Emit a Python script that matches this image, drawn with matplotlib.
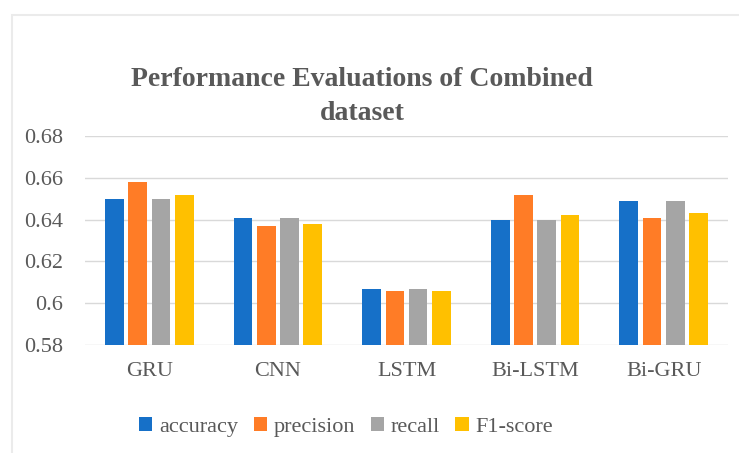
import numpy as np
import matplotlib.pyplot as plt
from matplotlib.patches import Rectangle

# data
models = ['GRU', 'CNN', 'LSTM', 'Bi-LSTM', 'Bi-GRU']
accuracy = [0.650, 0.641, 0.607, 0.640, 0.649]
precision = [0.658, 0.637, 0.606, 0.652, 0.641]
recall = [0.650, 0.641, 0.607, 0.640, 0.649]
f1_score = [0.652, 0.638, 0.606, 0.642, 0.643]
yticks = [0.58, 0.6, 0.62, 0.64, 0.66, 0.68]
ytick_labels = ['0.58', '0.6', '0.62', '0.64', '0.66', '0.68']

series = [('accuracy', accuracy, '#1670C8'),
          ('precision', precision, '#FF7C26'),
          ('recall', recall, '#A5A5A5'),
          ('F1-score', f1_score, '#FFC000')]

plt.rcParams['font.family'] = ['Liberation Serif', 'DejaVu Serif']
text_col = '#595959'

fig = plt.figure(figsize=(7.39, 4.53), dpi=100)
ax = fig.add_axes([85/739, 1 - 345/453, (728 - 85)/739, (345 - 136)/453])

# faint chart border
fig.add_artist(Rectangle((12/739, -0.1), 1.2, 1 - 15/453 + 0.1,
                         transform=fig.transFigure, fill=False,
                         edgecolor='#EBEBEB', linewidth=1.5))

x = np.arange(len(models))
step = 0.181
width = 0.145
for i, (name, vals, col) in enumerate(series):
    ax.bar(x + (i - 1.5)*step, np.array(vals) - 0.58, width, bottom=0.58,
           color=col, label=name, zorder=3)

ax.set_xlim(-0.5, len(models) - 0.5)
ax.set_ylim(0.58, 0.68)
ax.set_yticks(yticks)
ax.set_yticklabels(ytick_labels)
ax.set_xticks(x)
ax.set_xticklabels(models)
ax.tick_params(axis='both', length=0, labelsize=16, colors=text_col)
ax.tick_params(axis='x', pad=12)
ax.tick_params(axis='y', pad=16)
ax.grid(axis='y', color='#D9D9D9', linewidth=1, zorder=0)
for s in ax.spines.values():
    s.set_visible(False)

fig.text(362/739, 1 - 80/453, 'Performance Evaluations of Combined',
         ha='center', va='center', fontsize=20, fontweight='bold', color=text_col)
fig.text(362/739, 1 - 113/453, 'dataset',
         ha='center', va='center', fontsize=20, fontweight='bold', color=text_col)

fig.legend(loc='center', bbox_to_anchor=(346/739, 1 - 427/453), ncol=4,
           frameon=False, fontsize=16, handlelength=0.6, handleheight=0.6,
           handletextpad=0.3, columnspacing=0.7, labelcolor=text_col)

fig.savefig('out.png', dpi=100)
